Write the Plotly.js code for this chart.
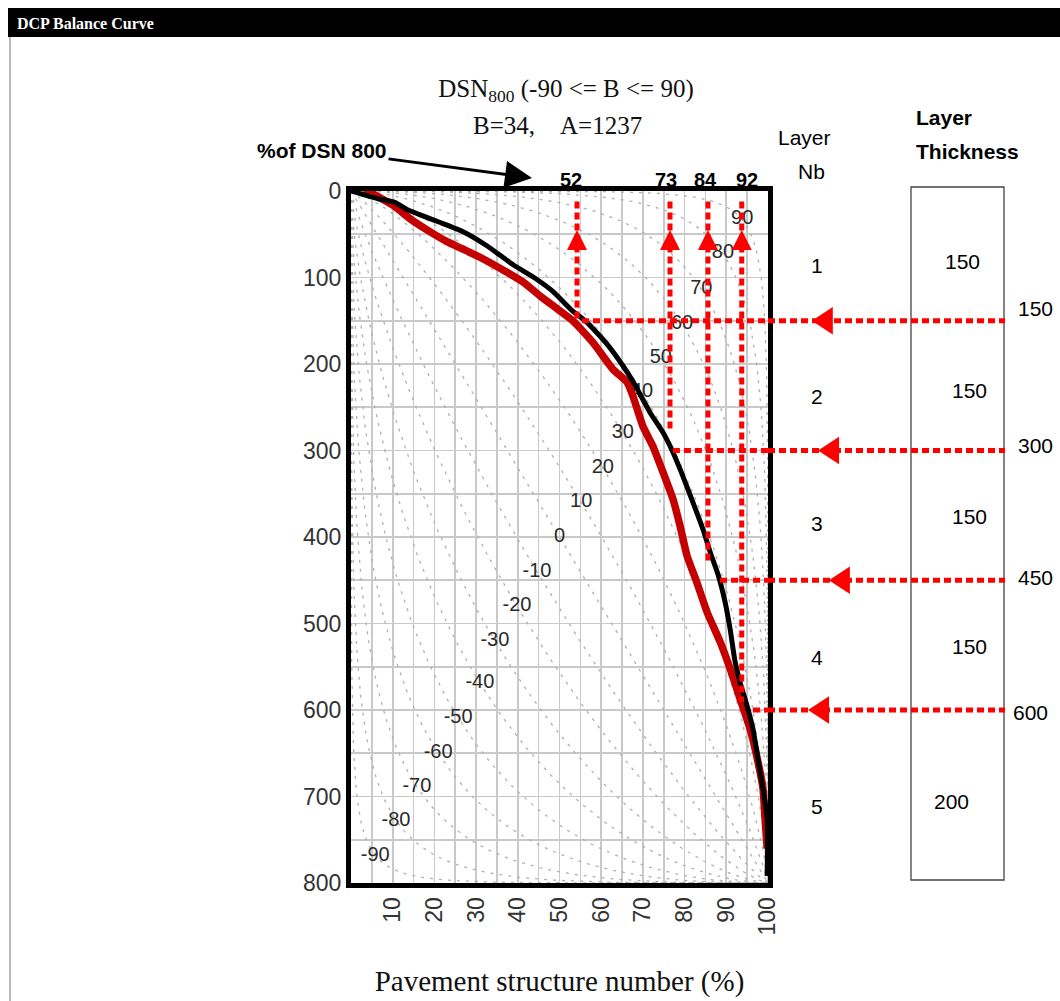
<!DOCTYPE html>
<html><head><meta charset="utf-8">
<script src="https://cdn.plot.ly/plotly-3.0.1.min.js"></script>
<style>html,body{margin:0;padding:0;background:#fff}#chart{width:1060px;height:1001px}</style>
</head><body><div id="chart"></div>
<script>
// ---- data ----
const pctTicks = [10, 20, 30, 40, 50, 60, 70, 80, 90, 100];
const depthTicks = [0, 100, 200, 300, 400, 500, 600, 700, 800];

const blackPct   = [0, 6.5, 10.5, 13.7, 20.6, 26.9, 32.5, 38.8, 44.5, 48.4, 53.2, 56.4, 61.4, 65.2, 67.6, 71.7, 74.8, 77.2, 79.2, 82.0, 84.4, 86.1, 88.0, 89.7, 90.9, 92.1, 93.3, 95.2, 96.4, 97.6, 98.8, 99.8, 99.8];
const blackDepth = [0, 9, 13, 22, 35, 47, 63, 85, 102, 116, 139, 151, 177, 202, 220, 256, 279, 302, 325, 360, 391, 417, 443, 475, 506, 544, 568, 599, 622, 657, 691, 726, 792];

const redPct   = [3, 5.3, 10.2, 14.7, 18.9, 22.8, 31.5, 37.4, 41.5, 45.5, 49.4, 53.2, 58.0, 62.8, 66.2, 67.6, 70.0, 72.4, 74.5, 77.2, 78.9, 80.6, 82.9, 85.4, 88.5, 90.9, 93.3, 95.7, 97.6, 98.8, 99.3, 99.8];
const redDepth = [0, 3.5, 17, 34, 47, 58, 78, 94, 106, 122, 136, 150, 175, 206, 221, 237, 272, 295, 321, 356, 387, 422, 452, 487, 521, 552, 587, 622, 660, 691, 726, 760];

const bValues     = [90, 80, 70, 60, 50, 40, 30, 20, 10, 0, -10, -20, -30, -40, -50, -60, -70, -80, -90];
const bLabelPct   = [93.8, 89.2, 84.0, 79.4, 74.3, 69.8, 65.2, 60.4, 55.2, 50.0, 44.6, 39.8, 34.5, 30.9, 25.7, 20.9, 15.8, 10.8, 5.8];
const bLabelDepth = [32, 72, 113, 154, 193, 232, 280, 320, 360, 400, 440, 480, 520, 569, 609, 650, 689, 728, 769];

const layerDepths      = [150, 300, 450, 600];
const dsnReadings      = ['52', '73', '84', '92'];
const readingLabelPct  = [52.8, 75.5, 85.0, 95.0];
const readLinePct      = [54.2, 76.5, 85.6, 93.7];
const readLineBottom   = [150, 279, 431, 591];
const readLineTop      = [12, 12, 12, 12];
const readArrowDepth   = [45, 45, 45, 45];
const hLineStartPct    = [55.4, 77.2, 88.5, 96.4];
const leftArrowPct     = [110.5, 112.0, 114.6, 109.6];

const layerNo        = ['1', '2', '3', '4', '5'];
const layerNoDepth   = [86, 238, 384, 539, 711];
const layerThickness = ['150', '150', '150', '150', '200'];
const thicknessDepth = [81, 231, 376, 527, 706];
const thicknessX     = [962, 969, 969, 969, 951];
const cumLabels      = ['150', '300', '450', '600'];
const cumLabelDepth  = [136, 294, 447, 603];
const cumLabelX      = [1035, 1035, 1035, 1030];

// ---- styling ----
const W = 1060, H = 1001;
const px = v => v / W, py = v => 1 - v / H;
const SANS = "'Liberation Sans', Arial, sans-serif";
const SERIF = "'Liberation Serif', 'Times New Roman', serif";
const RED = '#ff0000';
const DOTS = '7px,4px';

// nomogram construction curves through the labelled points (one per B value)
function bCurve(i) {
  const b = bValues[i];
  const vm = (bLabelDepth[i] / 800 + 1 - bLabelPct[i] / 100) / 2;
  const neg = b < 0;
  const w = neg ? 1 - vm : vm;
  const p = Math.log(0.5) / Math.log(w);
  const xs = [], ys = [];
  for (let k = 0; k <= 120; k++) {
    const th = (k / 120) * Math.PI / 2;
    let u = 1 - Math.pow(Math.cos(th), 2 / p), v = Math.pow(Math.sin(th), 2 / p);
    if (neg) { const t = u; u = v; v = t; }
    xs.push(u * 100); ys.push(v * 800);
  }
  return {x: xs, y: ys, type: 'scatter', mode: 'lines', hoverinfo: 'skip', showlegend: false,
    line: {color: '#b0b0b0', width: 1.3, dash: '3px,6px'}};
}

const traces = [];
bValues.forEach((b, i) => traces.push(bCurve(i)));
traces.push({x: bLabelPct, y: bLabelDepth, text: bValues.map(String), type: 'scatter', mode: 'text',
  textfont: {family: SANS, size: 20, color: '#2a2a2a'}, hoverinfo: 'skip', showlegend: false});
traces.push({x: redPct, y: redDepth, type: 'scatter', mode: 'lines', name: 'DCP curve',
  line: {color: '#c40000', width: 7.5, shape: 'spline', smoothing: 0.5}, showlegend: false});
traces.push({x: blackPct, y: blackDepth, type: 'scatter', mode: 'lines', name: 'Balance curve',
  line: {color: '#000000', width: 5, shape: 'spline', smoothing: 0.5}, showlegend: false});
traces.push({x: readLinePct, y: readArrowDepth, type: 'scatter', mode: 'markers',
  marker: {symbol: 'arrow-up', size: 20, color: RED, line: {width: 0}}, hoverinfo: 'skip', showlegend: false});

const shapes = [
  {type: 'rect', xref: 'paper', yref: 'paper', x0: px(8), x1: 1, y0: py(37), y1: py(8), fillcolor: '#000', line: {width: 0}, layer: 'below'},
  {type: 'line', xref: 'paper', yref: 'paper', x0: px(10), x1: px(10), y0: 0, y1: py(37), line: {color: '#8a8a8a', width: 1.2}},
  {type: 'rect', xref: 'paper', yref: 'paper', x0: px(911), x1: px(1004), y0: py(880), y1: py(187), line: {color: '#444', width: 1.3}}
];
layerDepths.forEach((d, i) => {
  shapes.push({type: 'line', xref: 'x', yref: 'y', x0: readLinePct[i], x1: readLinePct[i], y0: readLineTop[i], y1: readLineBottom[i],
    line: {color: RED, width: 5, dash: DOTS}});
  shapes.push({type: 'line', xref: 'x', yref: 'y', x0: hLineStartPct[i], x1: 100, y0: d, y1: d,
    line: {color: RED, width: 5, dash: DOTS}});
  shapes.push({type: 'line', xref: 'x domain', yref: 'y', x0: 1.0, x1: (1005 - 351) / (768 - 351), y0: d, y1: d,
    line: {color: RED, width: 5, dash: DOTS}});
  // left-pointing arrow head on each layer-boundary line
  const f = leftArrowPct[i] / 100, dw = 21 / 417, dh = 16;
  shapes.push({type: 'path', xref: 'x domain', yref: 'y',
    path: `M${f},${d} L${f + dw},${d - dh} L${f + dw},${d + dh} Z`, fillcolor: RED, line: {width: 0}});
});

const A = (o) => Object.assign({showarrow: false, xanchor: 'center', yanchor: 'middle'}, o);
const annotations = [
  A({xref: 'paper', yref: 'paper', x: px(15), y: py(23), xanchor: 'left',
    text: '<b>DCP Balance Curve</b>', font: {family: SERIF, size: 16, color: '#fff'}}),
  A({xref: 'paper', yref: 'paper', x: px(557), y: py(126),
    text: 'B=34,&nbsp;&nbsp;&nbsp;&nbsp;A=1237', font: {family: SERIF, size: 25, color: '#111'}}),
  {xref: 'paper', yref: 'paper', x: px(532), y: py(178), axref: 'paper', ayref: 'paper', ax: px(322), ay: py(150),
    xanchor: 'center', yanchor: 'middle',
    showarrow: true, arrowhead: 2, arrowsize: 1.8, arrowwidth: 3, arrowcolor: '#000',
    text: '<b>%of DSN 800</b>', font: {family: SANS, size: 21, color: '#000'}},
  A({xref: 'paper', yref: 'paper', x: px(804), y: py(137), text: 'Layer', font: {family: SANS, size: 21, color: '#000'}}),
  A({xref: 'paper', yref: 'paper', x: px(811), y: py(171), text: 'Nb', font: {family: SANS, size: 21, color: '#000'}}),
  A({xref: 'paper', yref: 'paper', x: px(914), y: py(117), xanchor: 'left', text: '<b>Layer</b>', font: {family: SANS, size: 21, color: '#000'}}),
  A({xref: 'paper', yref: 'paper', x: px(914), y: py(152), xanchor: 'left', text: '<b>Thickness</b>', font: {family: SANS, size: 21, color: '#000'}})
];
dsnReadings.forEach((t, i) => annotations.push(A({xref: 'x', yref: 'paper', x: readingLabelPct[i], y: py(180),
  text: '<b>' + t + '</b>', font: {family: SANS, size: 20, color: '#000'}})));
layerNo.forEach((t, i) => annotations.push(A({xref: 'paper', yref: 'y', x: px(817), y: layerNoDepth[i],
  text: t, font: {family: SANS, size: 21, color: '#000'}})));
layerThickness.forEach((t, i) => annotations.push(A({xref: 'paper', yref: 'y', x: px(thicknessX[i]), y: thicknessDepth[i],
  text: t, font: {family: SANS, size: 21, color: '#000'}})));
cumLabels.forEach((t, i) => annotations.push(A({xref: 'paper', yref: 'y', x: px(cumLabelX[i]), y: cumLabelDepth[i],
  text: t, font: {family: SANS, size: 21, color: '#000'}})));

const gridC = '#c9c9c9';
const layout = {
  width: W, height: H, margin: {l: 0, r: 0, t: 0, b: 0},
  paper_bgcolor: '#fff', plot_bgcolor: '#fff', showlegend: false,
  title: {text: 'DSN<sub>800</sub> (-90 &lt;= B &lt;= 90)', xref: 'paper', yref: 'paper', x: px(566), y: py(88),
    xanchor: 'center', yanchor: 'middle', font: {family: SERIF, size: 25, color: '#111'}},
  xaxis: {domain: [351 / W, 768 / W], range: [0, 100], tickmode: 'array', tickvals: pctTicks, ticktext: pctTicks.map(String),
    tickangle: -90, ticks: '', showgrid: true, gridcolor: gridC, gridwidth: 1.6,
    minor: {dtick: 5, tick0: 0, showgrid: true, gridcolor: gridC, gridwidth: 1.6, ticks: ''},
    showline: true, mirror: true, linewidth: 5, linecolor: '#000', zeroline: false,
    tickfont: {family: SANS, size: 23, color: '#333'},
    title: {text: 'Pavement structure number (%)', font: {family: SERIF, size: 29, color: '#111'}, standoff: 38}},
  yaxis: {domain: [1 - 883 / H, 1 - 191 / H], range: [800, 0], tickmode: 'array', tickvals: depthTicks, ticktext: depthTicks.map(String),
    ticks: '', showgrid: true, gridcolor: gridC, gridwidth: 1.6,
    minor: {dtick: 50, tick0: 0, showgrid: true, gridcolor: gridC, gridwidth: 1.6, ticks: ''},
    showline: true, mirror: true, linewidth: 5, linecolor: '#000', zeroline: false,
    tickfont: {family: SANS, size: 23, color: '#333'}},
  shapes: shapes, annotations: annotations
};
Plotly.newPlot('chart', traces, layout, {staticPlot: true, displayModeBar: false});
</script></body></html>
